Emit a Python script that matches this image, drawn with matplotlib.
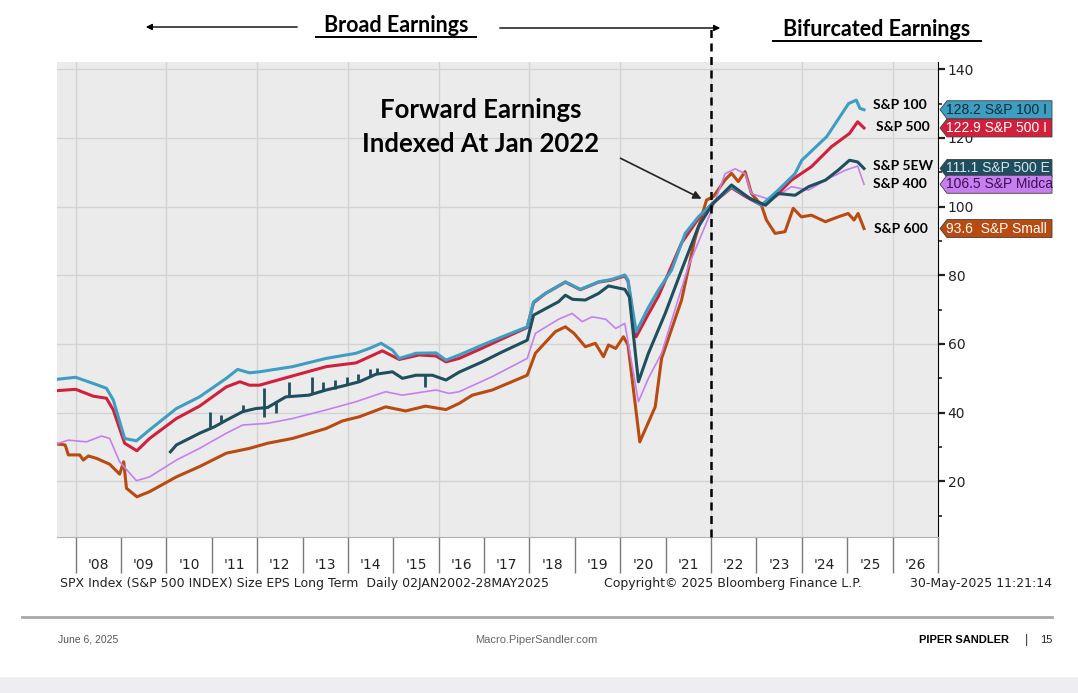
import numpy as np
import matplotlib.pyplot as plt
from matplotlib.patches import Polygon, FancyArrowPatch
from matplotlib.lines import Line2D
from matplotlib.transforms import blended_transform_factory

# Forward EPS indexed at Jan 2022
sp100_t = [2007.58, 2008.0, 2008.39, 2008.68, 2008.83, 2009.08, 2009.34, 2009.63, 2010.22, 2010.73,
           2011.32, 2011.57, 2011.83, 2012.05, 2012.78, 2013.52, 2014.18, 2014.47, 2014.73, 2014.98,
           2015.13, 2015.5, 2015.94, 2016.16, 2016.45, 2016.96, 2017.4, 2017.95, 2018.09, 2018.35,
           2018.79, 2019.12, 2019.52, 2019.81, 2020.1, 2020.17, 2020.35, 2020.61, 2020.84, 2021.13,
           2021.43, 2021.72, 2022.03, 2022.45, 2022.75, 2023.11, 2023.48, 2023.85, 2024.0, 2024.55,
           2025.03, 2025.2, 2025.28, 2025.37]
sp100_v = [49.7, 50.3, 48.5, 47.1, 43.7, 32.5, 31.8, 35.0, 41.2, 44.6,
           50.0, 52.6, 51.6, 51.9, 53.4, 55.8, 57.3, 58.7, 60.2, 58.2,
           55.8, 57.3, 57.4, 55.3, 56.8, 59.7, 62.1, 65.0, 72.3, 74.7,
           78.1, 75.9, 78.1, 78.8, 80.1, 78.6, 63.5, 70.4, 75.7, 81.5,
           92.2, 97.0, 100.9, 105.8, 103.3, 100.4, 104.8, 109.6, 113.5, 120.4,
           130.0, 131.0, 128.6, 128.2]

sp500_t = [2007.58, 2008.0, 2008.39, 2008.68, 2008.83, 2009.08, 2009.35, 2009.63, 2010.22, 2010.73,
           2011.32, 2011.62, 2011.83, 2012.05, 2012.78, 2013.52, 2014.18, 2014.76, 2015.13, 2015.57,
           2015.94, 2016.16, 2016.45, 2016.96, 2017.4, 2017.95, 2018.09, 2018.35, 2018.79, 2019.12,
           2019.52, 2019.81, 2020.1, 2020.17, 2020.35, 2020.61, 2020.84, 2021.35, 2021.72, 2022.03,
           2022.45, 2022.75, 2023.11, 2023.48, 2023.77, 2024.21, 2024.65, 2025.05, 2025.23, 2025.37]
sp500_v = [46.4, 46.8, 44.8, 44.2, 40.8, 31.1, 28.9, 32.5, 38.3, 41.9,
           47.5, 49.0, 48.0, 48.0, 50.7, 53.4, 54.5, 58.0, 55.5, 56.8,
           56.5, 54.8, 55.8, 58.8, 61.5, 64.8, 72.0, 74.7, 78.0, 75.8,
           78.0, 78.6, 79.8, 78.3, 62.1, 68.5, 73.9, 89.4, 96.5, 100.9,
           105.5, 103.0, 100.4, 103.8, 107.7, 111.6, 117.4, 121.3, 124.7, 122.9]

sp5ew_t = [2010.09, 2010.22, 2010.73, 2011.06, 2011.32, 2011.68, 2011.97, 2012.23, 2012.63, 2013.14,
           2013.52, 2013.96, 2014.25, 2014.62, 2014.98, 2015.2, 2015.5, 2015.86, 2016.16, 2016.45,
           2016.96, 2017.4, 2017.95, 2018.09, 2018.64, 2018.79, 2018.95, 2019.23, 2019.52, 2019.74,
           2020.1, 2020.2, 2020.4, 2020.62, 2020.99, 2021.35, 2021.72, 2022.03, 2022.45, 2022.85,
           2023.2, 2023.48, 2023.85, 2024.15, 2024.52, 2024.8, 2025.05, 2025.23, 2025.37]
sp5ew_v = [28.6, 30.6, 34.0, 35.9, 37.8, 40.3, 41.2, 41.5, 44.6, 45.1,
           46.6, 48.0, 49.0, 51.2, 51.9, 50.0, 50.9, 50.9, 49.5, 51.8,
           54.8, 57.7, 61.1, 68.4, 72.3, 74.2, 73.0, 72.8, 74.7, 76.9,
           75.9, 73.7, 49.0, 57.3, 68.9, 81.5, 94.1, 100.7, 106.3, 102.4,
           100.4, 103.8, 103.3, 105.8, 107.7, 110.6, 113.5, 113.0, 111.1]

# quarterly spikes in the equal-weight series: time, low, high
spike_t = [2010.97, 2011.2, 2011.68, 2012.14, 2012.16, 2012.42, 2012.71, 2013.21, 2013.46,
           2013.72, 2013.97, 2014.23, 2014.48, 2014.65, 2015.7]
spike_lo = [35.9, 37.0, 40.3, 38.8, 41.4, 39.8, 44.5, 45.3, 46.3, 47.0, 48.0, 49.0, 50.5, 51.2, 47.5]
spike_hi = [40.3, 39.3, 42.2, 41.4, 47.1, 43.5, 49.0, 50.4, 49.0, 49.5, 50.3, 51.2, 52.6, 52.9, 50.9]

sp400_t = [2007.58, 2007.84, 2008.24, 2008.57, 2008.75, 2008.97, 2009.34, 2009.63, 2010.22, 2010.73,
           2011.32, 2011.68, 2012.23, 2012.78, 2013.52, 2014.18, 2014.83, 2015.2, 2015.94, 2016.23,
           2016.45, 2017.18, 2017.95, 2018.13, 2018.64, 2018.94, 2019.16, 2019.38, 2019.68, 2019.9,
           2020.1, 2020.4, 2020.62, 2020.91, 2021.5, 2022.03, 2022.31, 2022.53, 2022.75, 2022.89,
           2023.33, 2023.77, 2024.15, 2024.52, 2024.96, 2025.23, 2025.37]
sp400_v = [30.9, 32.0, 31.5, 33.2, 32.5, 25.7, 20.2, 21.3, 26.2, 29.6,
           34.0, 36.4, 36.9, 38.3, 40.8, 43.2, 46.1, 45.1, 46.6, 45.6,
           46.1, 50.5, 55.8, 63.1, 67.2, 68.9, 66.5, 67.9, 67.2, 64.5,
           66.0, 43.2, 50.0, 57.3, 82.6, 99.5, 109.6, 111.0, 109.6, 103.8,
           101.9, 105.8, 104.8, 107.7, 110.6, 111.8, 106.5]

sp600_t = [2007.58, 2007.77, 2007.84, 2008.09, 2008.17, 2008.28, 2008.46, 2008.75, 2008.97, 2009.06,
           2009.12, 2009.35, 2009.63, 2010.22, 2010.73, 2011.32, 2011.83, 2012.23, 2012.78, 2013.52,
           2013.88, 2014.25, 2014.83, 2015.27, 2015.71, 2016.16, 2016.45, 2016.74, 2017.18, 2017.95,
           2018.13, 2018.57, 2018.79, 2018.98, 2019.23, 2019.45, 2019.63, 2019.74, 2019.9, 2020.07,
           2020.17, 2020.43, 2020.77, 2020.91, 2021.35, 2021.64, 2021.9, 2022.05, 2022.31, 2022.45,
           2022.6, 2022.75, 2022.89, 2023.11, 2023.22, 2023.41, 2023.63, 2023.81, 2023.99, 2024.21,
           2024.52, 2024.8, 2025.02, 2025.15, 2025.24, 2025.37]
sp600_v = [30.9, 30.6, 27.7, 27.7, 26.2, 27.4, 26.7, 25.0, 22.1, 25.7,
           18.0, 15.5, 17.0, 21.3, 24.3, 28.2, 29.6, 31.1, 32.5, 35.4,
           37.6, 38.8, 41.7, 40.5, 41.9, 40.9, 42.7, 45.1, 46.6, 50.9,
           57.3, 63.6, 65.0, 63.1, 59.2, 60.2, 56.3, 59.7, 58.7, 62.1,
           59.7, 31.5, 41.7, 55.8, 72.8, 90.3, 101.9, 102.9, 107.8, 109.7,
           107.3, 110.2, 103.8, 100.4, 96.1, 92.2, 92.7, 99.5, 97.0, 97.5,
           95.6, 97.0, 98.0, 96.1, 98.0, 93.6]

years = list(range(2008, 2027))
year_labels = ["'%02d" % (y % 100) for y in years]
right_ticks = [20, 40, 60, 80, 100, 120, 140]

c100, c500, c5ew, c400, c600 = '#3d9ec2', '#d2203c', '#1f4e5e', '#c77ff0', '#b94a10'

W, H = 1078, 693
fig = plt.figure(figsize=(W / 100, H / 100), dpi=100)
fig.patch.set_facecolor('white')

def fx(x):
    return x / W

def fy(y):
    return 1 - y / H

ax = fig.add_axes([fx(57), fy(537), fx(938) - fx(57), fy(62) - fy(537)])
ax.set_facecolor('#ebebeb')
ax.set_xlim(2007.59, 2026.94)
ax.set_ylim(3.8, 142.1)

# grid
for g in range(2008, 2027, 2):
    ax.axvline(g, color='#d3d3d3', lw=1, zorder=0)
for g in right_ticks:
    ax.axhline(g, color='#d3d3d3', lw=1, zorder=0)

ax.plot(sp600_t, sp600_v, color=c600, lw=2.2, zorder=3)
ax.plot(sp400_t, sp400_v, color=c400, lw=1.2, zorder=3)
ax.plot(sp5ew_t, sp5ew_v, color=c5ew, lw=2.2, zorder=4)
ax.vlines(spike_t, spike_lo, spike_hi, color=c5ew, lw=2.0, zorder=4)
ax.plot(sp500_t, sp500_v, color=c500, lw=2.2, zorder=3)
ax.plot(sp100_t, sp100_v, color=c100, lw=2.2, zorder=3)

# axes styling
for s in ['left', 'top']:
    ax.spines[s].set_visible(False)
ax.spines['right'].set_color('black')
ax.spines['bottom'].set_color('#b0b0b0')
ax.yaxis.tick_right()
ax.set_yticks(right_ticks)
ax.set_yticks([10, 30, 50, 70, 90, 110, 130], minor=True)
ax.tick_params(axis='y', which='major', direction='out', length=5, width=1.6,
               labelsize=10, pad=2, colors='#222222')
ax.tick_params(axis='y', which='minor', direction='out', length=3, width=1.2, colors='#222222')

ax.set_xticks(years + [2027])
ax.set_xticklabels([''] * (len(years) + 1))
ax.set_xticks([y + 0.5 for y in years], minor=True)
ax.set_xticklabels(year_labels, minor=True)
ax.tick_params(axis='x', which='major', direction='out', length=26, width=1, color='#7a7a7a')
ax.tick_params(axis='x', which='minor', length=0, pad=15, labelsize=10, labelcolor='#222222')

# Jan 2022 divider
ax.add_line(Line2D([2022.0, 2022.0], [3.8, 152.0], color='black', lw=1.8,
                   linestyle=(0, (3.2, 2.2)), clip_on=False, zorder=6))

# series labels
lab_kw = dict(fontsize=10, fontweight='bold', family=['Lato', 'DejaVu Sans'],
              va='center', ha='left', color='black')
trans = blended_transform_factory(fig.transFigure, ax.transData)
fig.text(fx(873), fy(105), 'S&P 100', **lab_kw)
fig.text(fx(876), fy(127), 'S&P 500', **lab_kw)
fig.text(fx(873), fy(166), 'S&P 5EW', **lab_kw)
fig.text(fx(873), fy(184), 'S&P 400', **lab_kw)
fig.text(fx(874), fy(229), 'S&P 600', **lab_kw)

# last value badges
badges = [
    (128.2, '128.2 S&P 100 I', c100, '#0e2c38'),
    (122.9, '122.9 S&P 500 I', c500, 'white'),
    (111.1, '111.1 S&P 500 E', c5ew, '#d5e4ea'),
    (106.5, '106.5 S&P Midca', c400, '#3a0f52'),
    (93.6, '93.6  S&P Small', c600, 'white'),
]
hh = 9 / 3.435
for v, txt, fc, tc in badges:
    poly = Polygon([(fx(940), v), (fx(947), v + hh), (fx(1052), v + hh),
                    (fx(1052), v - hh), (fx(947), v - hh)], closed=True,
                   transform=trans, facecolor=fc, edgecolor='#404040', lw=0.6,
                   clip_on=False, zorder=10)
    fig.patches.append(poly)
    t = fig.text(fx(946), v, txt, transform=trans, fontsize=10, color=tc,
                 family=['Liberation Sans', 'DejaVu Sans'], va='center', ha='left', zorder=11)
    t.set_clip_path(poly)

# header
head_kw = dict(fontsize=15.5, fontweight='bold', family=['Lato', 'DejaVu Sans'],
               ha='center', va='center', color='black')
fig.text(fx(396), fy(26), 'Broad Earnings', **head_kw)
fig.text(fx(877), fy(30), 'Bifurcated Earnings', **head_kw)
fig.add_artist(Line2D([fx(316), fx(476)], [fy(37), fy(37)], color='black', lw=1.4))
fig.add_artist(Line2D([fx(773), fx(981)], [fy(41), fy(41)], color='black', lw=1.4))
fig.add_artist(FancyArrowPatch((fx(300), fy(27)), (fx(143), fy(27)), transform=fig.transFigure,
                               arrowstyle='-|>', mutation_scale=9, color='black', lw=1.0))
fig.add_artist(FancyArrowPatch((fx(497), fy(28)), (fx(723), fy(28)), transform=fig.transFigure,
                               arrowstyle='-|>', mutation_scale=9, color='black', lw=1.0))

fig.text(fx(481), fy(127), 'Forward Earnings\nIndexed At Jan 2022', fontsize=18.5,
         fontweight='bold', family=['Lato', 'DejaVu Sans'], ha='center', va='center',
         linespacing=1.5)
fig.add_artist(FancyArrowPatch((fx(618), fy(157)), (fx(704), fy(200)), transform=fig.transFigure,
                               arrowstyle='-|>', mutation_scale=12, color='#222222', lw=1.2))

# bloomberg footer
fig.text(fx(60), fy(583), 'SPX Index (S&P 500 INDEX) Size EPS Long Term  Daily 02JAN2002-28MAY2025',
         fontsize=9, va='center', ha='left', color='#222222')
fig.text(fx(733), fy(583), 'Copyright\u00a9 2025 Bloomberg Finance L.P.', fontsize=9,
         va='center', ha='center', color='#222222')
fig.text(fx(1052), fy(583), '30-May-2025 11:21:14', fontsize=9, va='center', ha='right',
         color='#222222')

# page footer
fig.add_artist(Line2D([fx(22), fx(1052)], [fy(617), fy(617)], color='#a8a8a8', lw=2))
narrow = ['Liberation Sans Narrow', 'Liberation Sans', 'DejaVu Sans']
fig.text(fx(58), fy(639), 'June 6, 2025', fontsize=7.5, family=narrow, color='#555555',
         va='center', ha='left')
fig.text(fx(536), fy(640), 'Macro.PiperSandler.com', fontsize=8, family=narrow,
         color='#666666', va='center', ha='center')
fig.text(fx(1009), fy(640), 'PIPER SANDLER', fontsize=8, fontweight='bold', family=narrow,
         color='black', va='center', ha='right')
fig.text(fx(1026), fy(640), '|', fontsize=9, family=narrow, color='#333333',
         va='center', ha='center')
fig.text(fx(1052), fy(640), '15', fontsize=8, family=narrow, color='#222222',
         va='center', ha='right')
fig.patches.append(plt.Rectangle((0, 0), 1, fy(677), transform=fig.transFigure,
                                 facecolor='#eeeef2', edgecolor='none', zorder=0))

fig.savefig('out.png', dpi=100, facecolor='white')
